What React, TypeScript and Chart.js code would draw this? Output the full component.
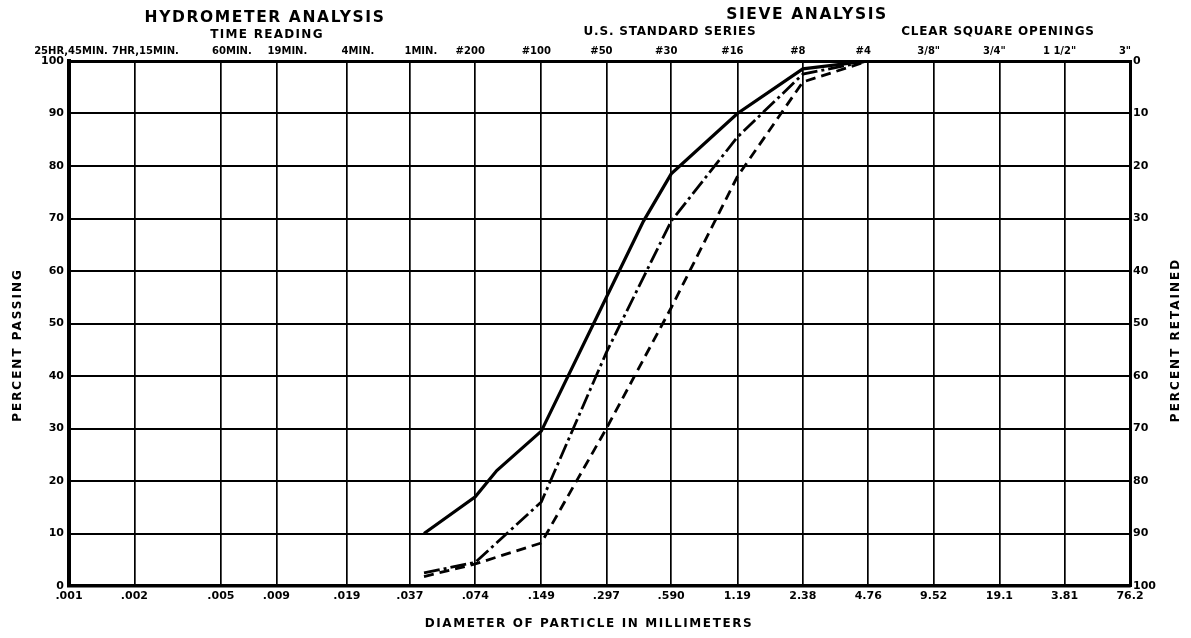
import { useEffect, useRef } from "react";
import { Chart, registerables } from "chart.js";

Chart.register(...registerables);

// Grid diameters (mm) on the logarithmic x axis
const diameters = [0.001, 0.002, 0.005, 0.009, 0.019, 0.037, 0.074, 0.149, 0.297, 0.59, 1.19, 2.38, 4.76, 9.52, 19.1, 38.1, 76.2];
const bottomLabels = [".001", ".002", ".005", ".009", ".019", ".037", ".074", ".149", ".297", ".590", "1.19", "2.38", "4.76", "9.52", "19.1", "3.81", "76.2"];
// Hydrometer time readings (first six) and sieve designations (rest), one per grid diameter
const timeReadings = ["25HR,45MIN.", "7HR,15MIN.", "60MIN.", "19MIN.", "4MIN.", "1MIN."];
const sieveLabels = ["#200", "#100", "#50", "#30", "#16", "#8", "#4", "3/8\"", "3/4\"", "1 1/2\"", "3\""];
const percentTicks = [0, 10, 20, 30, 40, 50, 60, 70, 80, 90, 100];

// Gradation curves (percent passing)
const solidX = [0.043, 0.074, 0.093, 0.149, 0.297, 0.44, 0.59, 1.19, 2.38, 4.76];
const solidY = [10, 17, 22, 29.5, 55, 69.5, 78.5, 90, 98.5, 100];
const dashDotX = [0.043, 0.074, 0.149, 0.297, 0.59, 1.19, 2.38, 4.76];
const dashDotY = [2.5, 4.5, 16, 44.5, 69.5, 85.5, 97.5, 100];
const dashedX = [0.043, 0.074, 0.149, 0.297, 0.59, 1.19, 2.38, 4.76];
const dashedY = [1.8, 4.2, 8.2, 30, 53, 78, 96, 100];

const W = 1191;
const H = 638;
const FONT = "'DejaVu Sans', sans-serif";

export default function App() {
  const ref = useRef<HTMLCanvasElement>(null);

  useEffect(() => {
    document.body.style.margin = "0";
    const toPts = (xs: number[], ys: number[]) => xs.map((x, i) => ({ x, y: ys[i] }));
    const topLabels = [...timeReadings, ...sieveLabels];

    const textPlugin = {
      id: "texts",
      beforeDraw(chart: any) {
        const ctx = chart.ctx;
        ctx.save();
        ctx.fillStyle = "#ffffff";
        ctx.fillRect(0, 0, chart.width, chart.height);
        ctx.restore();
      },
      afterDraw(chart: any) {
        const ctx = chart.ctx as CanvasRenderingContext2D;
        const draw = (t: string, x: number, y: number, size: number, spacing: number, rot = 0) => {
          ctx.save();
          ctx.translate(x, y);
          ctx.rotate(rot);
          ctx.font = `bold ${size}px ${FONT}`;
          (ctx as any).letterSpacing = `${spacing}px`;
          ctx.fillStyle = "#000";
          ctx.textAlign = "center";
          ctx.textBaseline = "middle";
          ctx.fillText(t, 0, 0);
          ctx.restore();
        };
        draw("HYDROMETER ANALYSIS", 265, 18, 15.5, 1.6);
        draw("TIME READING", 267, 35, 12, 1.3);
        draw("SIEVE ANALYSIS", 807, 15, 15.5, 1.6);
        draw("U.S. STANDARD SERIES", 670, 32, 12, 0.8);
        draw("CLEAR SQUARE OPENINGS", 998, 32, 12, 0.8);
        draw("DIAMETER OF PARTICLE IN MILLIMETERS", 589, 624, 12, 1.6);
        draw("PERCENT PASSING", 18, 345, 12, 2, -Math.PI / 2);
        draw("PERCENT RETAINED", 1176, 340, 12, 2, -Math.PI / 2);

        // top axis labels (time readings sit a little right of their lines, sieves a little left)
        const xs = chart.scales.x;
        topLabels.forEach((t, i) => {
          const px = xs.getPixelForValue(diameters[i]);
          const shift = i === 0 ? 2 : i < timeReadings.length ? 11 : -5;
          draw(t, px + shift, 51, 10, 0);
        });
      },
    };

    const setTicks = (axis: any) => {
      axis.ticks = diameters.map((v) => ({ value: v }));
    };
    const tickFont = { family: FONT, size: 11, weight: "bold" as const };

    const chart = new Chart(ref.current as HTMLCanvasElement, {
      type: "scatter",
      data: {
        datasets: [
          {
            data: toPts(solidX, solidY),
            showLine: true,
            borderColor: "#000",
            borderWidth: 3.2,
            pointRadius: 0,
            tension: 0,
          },
          {
            data: toPts(dashDotX, dashDotY),
            showLine: true,
            borderColor: "#000",
            borderWidth: 2.8,
            borderDash: [16, 4, 3, 4],
            pointRadius: 0,
            tension: 0,
          },
          {
            data: toPts(dashedX, dashedY),
            showLine: true,
            borderColor: "#000",
            borderWidth: 2.8,
            borderDash: [10, 6],
            pointRadius: 0,
            tension: 0,
          },
        ],
      },
      options: {
        responsive: false,
        animation: false,
        layout: { padding: 0 },
        plugins: { legend: { display: false }, tooltip: { enabled: false } },
        scales: {
          x: {
            type: "logarithmic",
            position: "bottom",
            min: 0.001,
            max: 76.2,
            afterBuildTicks: setTicks,
            afterFit: (s: any) => {
              s.height = H - 586;
            },
            ticks: {
              autoSkip: false,
              maxRotation: 0,
              minRotation: 0,
              padding: 4,
              color: "#000",
              font: tickFont,
              callback: (_v: any, i: number) => bottomLabels[i],
            },
            grid: { color: "#000", lineWidth: 1.7, drawTicks: false },
            border: { display: true, color: "#000", width: 3.5 },
          },
          x2: {
            type: "logarithmic",
            position: "top",
            min: 0.001,
            max: 76.2,
            afterBuildTicks: setTicks,
            afterFit: (s: any) => {
              s.height = 61;
            },
            ticks: { display: false },
            grid: { display: false, drawTicks: false },
            border: { display: true, color: "#000", width: 3 },
          },
          y: {
            type: "linear",
            position: "left",
            min: 0,
            max: 100,
            afterBuildTicks: (axis: any) => {
              axis.ticks = percentTicks.map((v) => ({ value: v }));
            },
            afterFit: (s: any) => {
              s.width = 69;
            },
            ticks: { padding: 5, color: "#000", font: tickFont },
            grid: { color: "#000", lineWidth: 2, drawTicks: false },
            border: { display: true, color: "#000", width: 4 },
          },
          y2: {
            type: "linear",
            position: "right",
            min: 0,
            max: 100,
            reverse: true,
            afterBuildTicks: (axis: any) => {
              axis.ticks = percentTicks.map((v) => ({ value: v }));
            },
            afterFit: (s: any) => {
              s.width = W - 1130;
            },
            ticks: { padding: 3, color: "#000", font: tickFont },
            grid: { drawOnChartArea: false, drawTicks: false },
            border: { display: true, color: "#000", width: 3 },
          },
        },
      },
      plugins: [textPlugin],
    } as any);

    return () => chart.destroy();
  }, []);

  return <canvas ref={ref} width={W} height={H} style={{ display: "block" }} />;
}
